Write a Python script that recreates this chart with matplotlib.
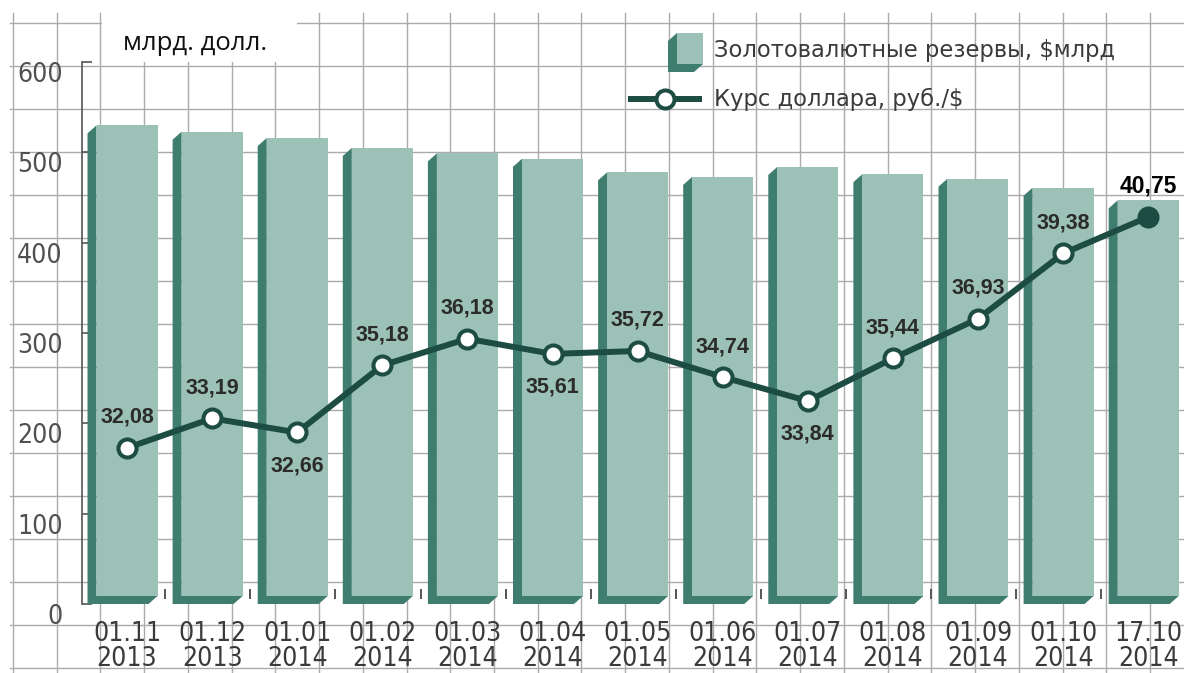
import numpy as np
import matplotlib
matplotlib.use("Agg")
import matplotlib.pyplot as plt
from matplotlib.patches import Polygon, Rectangle

# ---------------- data ----------------
dates = ["01.11\n2013", "01.12\n2013", "01.01\n2014", "01.02\n2014", "01.03\n2014",
         "01.04\n2014", "01.05\n2014", "01.06\n2014", "01.07\n2014", "01.08\n2014",
         "01.09\n2014", "01.10\n2014", "17.10\n2014"]
reserves = [521, 514, 507, 496, 490, 484, 469, 464, 475, 467, 462, 452, 438]
usd_rate = [32.08, 33.19, 32.66, 35.18, 36.18, 35.61, 35.72, 34.74, 33.84, 35.44,
            36.93, 39.38, 40.75]
yticks = [0, 100, 200, 300, 400, 500, 600]
label_side = ["up", "up", "down", "up", "up", "down", "up", "up", "down", "up", "up", "up", "up"]
unit_title = "млрд. долл."
legend_bars = "Золотовалютные резервы, $млрд"
legend_line = "Курс доллара, руб./$"

# ---------------- style ----------------
FACE = "#9cc2b7"
SIDE = "#3f7d6e"
LINE = "#1d4c43"
GRID = "#ababab"

W, H = 1184, 673
fig = plt.figure(figsize=(W / 100, H / 100), dpi=100)

# background "graph paper" axes in pixel coordinates
bg = fig.add_axes([0, 0, 1, 1], zorder=0)
bg.set_xlim(0, W)
bg.set_ylim(H, 0)
bg.axis("off")
for k in range(27):
    gx = 13 + 43.73 * k
    bg.plot([gx, gx], [13, H], color=GRID, lw=1.0, zorder=0)
for k in range(16):
    gy = 23 + 43.0 * k
    bg.plot([10, W], [gy, gy], color=GRID, lw=1.0, zorder=0)
bg.add_patch(Rectangle((102, 8), 195, 54, facecolor="white", edgecolor="none", zorder=1))
bg.text(123, 43, unit_title, fontsize=18.5, family=["Open Sans", "DejaVu Sans"],
        color="#111111", va="center", ha="left", zorder=2)

# legend (bar icon)
d_x, d_y = 9, 8
fx0, fx1, fy0, fy1 = 677, 703, 33, 64
bg.add_patch(Polygon([(fx0 - d_x, fy0 + d_y), (fx0, fy0), (fx0, fy1), (fx1, fy1),
                      (fx1 - d_x, fy1 + d_y), (fx0 - d_x, fy1 + d_y)],
                     closed=True, facecolor=SIDE, edgecolor="none", zorder=3))
bg.add_patch(Rectangle((fx0, fy0), fx1 - fx0, fy1 - fy0, facecolor=FACE, edgecolor="none", zorder=4))
bg.text(714, 51, legend_bars, fontsize=16.3, color="#3a3a3a", va="center", ha="left",
        family=["DejaVu Sans"], zorder=4)
bg.plot([628, 702], [99, 99], color=LINE, lw=4.3, solid_capstyle="butt", zorder=3)
bg.plot([665], [99], marker="o", ms=13, mfc="white", mec=LINE, mew=2.9, zorder=4)
bg.text(714, 99, legend_line, fontsize=16.3, color="#3a3a3a", va="center", ha="left",
        family=["DejaVu Sans"], zorder=4)

# main axes
ax_left, ax_right, ax_top, ax_bottom = 82, W, 62, 604
ax = fig.add_axes([ax_left / W, (H - ax_bottom) / H, (ax_right - ax_left) / W, (ax_bottom - ax_top) / H],
                  zorder=1)
ax.patch.set_alpha(0)
x0_px, step_px = 127, 85.1
xlim = ((ax_left - x0_px) / step_px, (ax_right - x0_px) / step_px)
ylim = (0, 600)
ax.set_xlim(*xlim)
ax.set_ylim(*ylim)

x = np.arange(len(reserves))
w = 61 / step_px
ax_w_px = ax_right - ax_left
ax_h_px = ax_bottom - ax_top
dxd = d_x * (xlim[1] - xlim[0]) / ax_w_px
dyd = d_y * (ylim[1] - ylim[0]) / ax_h_px

for xi, v in zip(x, reserves):
    L, R = xi - w / 2, xi + w / 2
    side = Polygon([(L - dxd, 0), (R - dxd, 0), (R, dyd), (L, dyd), (L, v + dyd), (L - dxd, v)],
                   closed=True, facecolor=SIDE, edgecolor="none", zorder=2)
    ax.add_patch(side)
ax.bar(x, reserves, width=w, bottom=dyd, color=FACE, edgecolor="none", zorder=3)

# small tick marks between bars
ax.vlines(x + 0.45, 5, 17, color="#555555", lw=1.4, clip_on=False, zorder=3)

for s in ["top", "right", "bottom"]:
    ax.spines[s].set_visible(False)
ax.spines["left"].set_color("#555555")
ax.spines["left"].set_linewidth(1.2)
ax.spines["left"].set_bounds(0, 600)
ax.set_yticks(yticks)
ax.set_yticklabels([str(t) for t in yticks])
ax.tick_params(axis="y", direction="in", length=7, width=1.2, color="#555555",
               labelsize=19, labelcolor="#505050", pad=14)
for lab in ax.get_yticklabels():
    lab.set_va("top")
    lab.set_family(["DejaVu Sans"])
    lab.set_fontstretch("condensed")
ax.set_xticks(x)
ax.set_xticklabels(dates, linespacing=0.95)
ax.tick_params(axis="x", length=0, pad=12, labelsize=19, labelcolor="#3a3a3a")
for lab in ax.get_xticklabels():
    lab.set_family(["DejaVu Sans"])
    lab.set_fontstretch("condensed")

# exchange-rate line on secondary axis
ax2 = ax.twinx()
ax2.set_ylim(26.22, 46.57)
ax2.axis("off")
ax2.plot(x, usd_rate, color=LINE, lw=4.3, zorder=4, solid_joinstyle="round")
ax2.plot(x[:-1], usd_rate[:-1], "o", ms=13, mfc="white", mec=LINE, mew=2.9, zorder=5)
ax2.plot(x[-1:], usd_rate[-1:], "o", ms=13, mfc=LINE, mec=LINE, mew=2.9, zorder=5)
for i, (xi, v) in enumerate(zip(x, usd_rate)):
    txt = f"{v:.2f}".replace(".", ",")
    off = 22 if label_side[i] == "up" else -24
    last = i == len(usd_rate) - 1
    ax2.annotate(txt, (xi, v), xytext=(0, off), textcoords="offset points",
                 ha="center", va="center", fontsize=16.5 if last else 15.5,
                 fontweight="bold", color="#000000" if last else "#2b2b2b",
                 family=["Liberation Sans", "DejaVu Sans"], zorder=6)

fig.savefig("out.png", dpi=100)
